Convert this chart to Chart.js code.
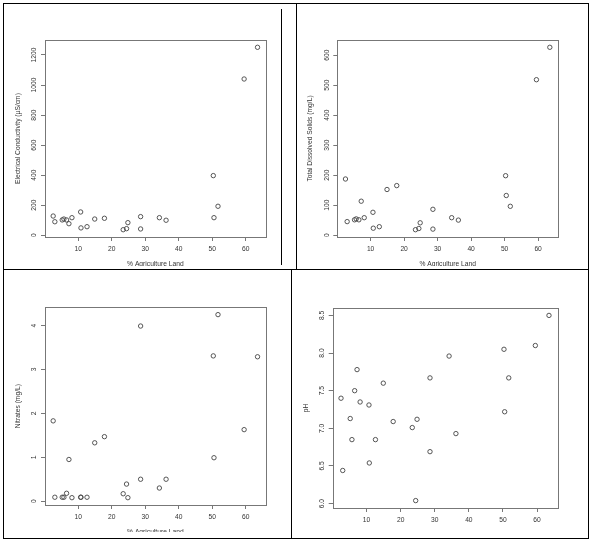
<!DOCTYPE html>
<html>
<head>
<meta charset="utf-8">
<script src="https://cdn.jsdelivr.net/npm/chart.js@4.4.1/dist/chart.umd.min.js"></script>
<style>
  body { margin: 0; background: #fff; }
  #page { position: relative; width: 591px; height: 541px; overflow: hidden; background: #fff; }
  .ln { position: absolute; background: #000; }
  .wrap { position: absolute; overflow: hidden; }
  .wrap canvas { position: absolute; left: 0; top: 0; }
</style>
</head>
<body>
<div id="page">
  <div class="ln" style="left:3px;top:3px;width:586px;height:1px"></div>
  <div class="ln" style="left:3px;top:538px;width:586px;height:1px"></div>
  <div class="ln" style="left:3px;top:3px;width:1px;height:536px"></div>
  <div class="ln" style="left:588px;top:3px;width:1px;height:536px"></div>
  <div class="ln" style="left:3px;top:269px;width:586px;height:1px"></div>
  <div class="ln" style="left:296px;top:3px;width:1px;height:267px"></div>
  <div class="ln" style="left:291px;top:269px;width:1px;height:270px"></div>
  <div class="ln" style="left:281px;top:9px;width:1px;height:256px"></div>
</div>
<script>
// % agriculture land for each sampling site (shared x values)
const agLand = [2.5, 3.0, 5.2, 5.7, 6.5, 7.2, 8.1, 10.7, 10.8, 12.6, 14.9, 17.8,
                23.4, 24.4, 24.8, 28.6, 28.6, 34.2, 36.2, 50.3, 50.5, 51.7, 59.5, 63.5];

const conductivity = [128, 90, 102, 108, 102, 77, 117, 155, 49, 57, 108, 113,
                      37, 44, 84, 124, 42, 117, 100, 397, 117, 193, 1040, 1251];
const dissolvedSolids = [187, 45, 51, 54, 51, 113, 58, 76, 23, 28, 152, 165,
                         18, 22, 41, 86, 20, 58, 50, 198, 132, 96, 518, 626];
const nitrates = [1.83, 0.09, 0.09, 0.09, 0.18, 0.95, 0.08, 0.09, 0.09, 0.09, 1.33, 1.47,
                  0.17, 0.39, 0.08, 3.99, 0.50, 0.30, 0.50, 3.31, 0.99, 4.25, 1.63, 3.29];
const ph = [7.40, 6.44, 7.13, 6.85, 7.50, 7.78, 7.35, 7.31, 6.54, 6.85, 7.60, 7.09,
            7.01, 6.04, 7.12, 7.67, 6.69, 7.96, 6.93, 8.05, 7.22, 7.67, 8.10, 8.50];

const xTicks = [10, 20, 30, 40, 50, 60];
const ecTicks = [0, 200, 400, 600, 800, 1000, 1200];
const tdsTicks = [0, 100, 200, 300, 400, 500, 600];
const no3Ticks = [0, 1, 2, 3, 4];
const phTicks = [6.0, 6.5, 7.0, 7.5, 8.0, 8.5];

const FONT = '"Liberation Sans", Arial, sans-serif';
const TXT = '#333';
const AXIS = '#777';

// R style axis limits: data range widened by 4%
function rLimits(arr) {
  const lo = Math.min(...arr), hi = Math.max(...arr);
  const d = (hi - lo) * 0.04;
  return [lo - d, hi + d];
}

// frame round the plot area and y tick labels turned to read upward
const rStyle = {
  id: 'rStyle',
  afterDraw(chart) {
    const ctx = chart.ctx;
    const a = chart.chartArea;
    const y = chart.scales.y;
    const dec = chart.options.decimals || 0;
    ctx.save();
    ctx.strokeStyle = AXIS;
    ctx.lineWidth = 1;
    ctx.strokeRect(Math.round(a.left) + 0.5, Math.round(a.top) + 0.5,
                   Math.round(a.right - a.left), Math.round(a.bottom - a.top));
    ctx.fillStyle = TXT;
    ctx.font = '6.7px ' + FONT;
    ctx.textAlign = 'center';
    ctx.textBaseline = 'middle';
    y.ticks.forEach(t => {
      ctx.save();
      ctx.translate(a.left - 10.5, y.getPixelForValue(t.value));
      ctx.rotate(-Math.PI / 2);
      ctx.fillText(t.value.toFixed(dec), 0, 0);
      ctx.restore();
    });
    ctx.restore();
  }
};

function makePanel(p) {
  const page = document.getElementById('page');
  const wrap = document.createElement('div');
  wrap.className = 'wrap';
  wrap.style.left = p.wrap[0] + 'px';
  wrap.style.top = p.wrap[1] + 'px';
  wrap.style.width = p.wrap[2] + 'px';
  wrap.style.height = p.wrap[3] + 'px';
  const cv = document.createElement('canvas');
  const w = p.wrap[2];
  const h = Math.round(p.box[3] - p.wrap[1] + 40);
  cv.width = w; cv.height = h;
  cv.style.width = w + 'px'; cv.style.height = h + 'px';
  wrap.appendChild(cv);
  page.appendChild(wrap);

  const xLim = rLimits(agLand);
  const yLim = rLimits(p.values);

  new Chart(cv, {
    type: 'scatter',
    data: {
      datasets: [{
        data: agLand.map((x, i) => ({ x: x, y: p.values[i] })),
        pointStyle: 'circle',
        pointRadius: 2.2,
        pointBorderWidth: 0.9,
        borderColor: '#444',
        backgroundColor: 'rgba(0,0,0,0)'
      }]
    },
    options: {
      responsive: false,
      animation: false,
      devicePixelRatio: 1,
      decimals: p.decimals,
      layout: {
        padding: {
          left: 0,
          top: p.box[1] - p.wrap[1],
          right: w - (p.box[2] - p.wrap[0]),
          bottom: 0
        }
      },
      plugins: { legend: { display: false }, tooltip: { enabled: false } },
      scales: {
        x: {
          type: 'linear',
          min: xLim[0],
          max: xLim[1],
          afterBuildTicks: s => { s.ticks = xTicks.map(v => ({ value: v })); },
          afterFit: s => { s.height = 40; },
          ticks: { autoSkip: false, maxRotation: 0, padding: 4.5, color: TXT, font: { family: FONT, size: 6.7 } },
          grid: { drawOnChartArea: false, tickLength: 4, tickColor: AXIS },
          border: { display: false },
          title: {
            display: p.showXTitle,
            text: '% Agriculture Land',
            color: TXT,
            font: { family: FONT, size: 6.7 },
            padding: { top: 9, bottom: 9 }
          }
        },
        y: {
          type: 'linear',
          min: yLim[0],
          max: yLim[1],
          afterBuildTicks: s => { s.ticks = p.ticks.map(v => ({ value: v })); },
          afterFit: s => { s.width = p.box[0] - p.wrap[0]; },
          ticks: { display: false },
          grid: { drawOnChartArea: false, tickLength: 4, tickColor: AXIS },
          border: { display: false },
          title: {
            display: true,
            text: p.yTitle,
            color: TXT,
            font: { family: FONT, size: 6.7 },
            padding: { top: p.yTitlePad, bottom: p.yTitlePad }
          }
        }
      }
    },
    plugins: [rStyle]
  });
}

makePanel({ wrap: [4, 5, 277, 261], box: [45, 40, 265.7, 237], values: conductivity, ticks: ecTicks,
            decimals: 0, yTitle: 'Electrical Conductivity (µS/cm)', yTitlePad: 10, showXTitle: true });
makePanel({ wrap: [297, 5, 291, 261], box: [337.3, 40, 558, 237], values: dissolvedSolids, ticks: tdsTicks,
            decimals: 0, yTitle: 'Total Dissolved Solids (mg/L)', yTitlePad: 9.3, showXTitle: true });
makePanel({ wrap: [4, 270, 287, 262], box: [45, 307.3, 265.7, 504.7], values: nitrates, ticks: no3Ticks,
            decimals: 0, yTitle: 'Nitrates (mg/L)', yTitlePad: 10, showXTitle: true });
makePanel({ wrap: [292, 270, 296, 260], box: [332.7, 308, 557.3, 508], values: ph, ticks: phTicks,
            decimals: 1, yTitle: 'pH', yTitlePad: 10.3, showXTitle: false });
</script>
</body>
</html>
